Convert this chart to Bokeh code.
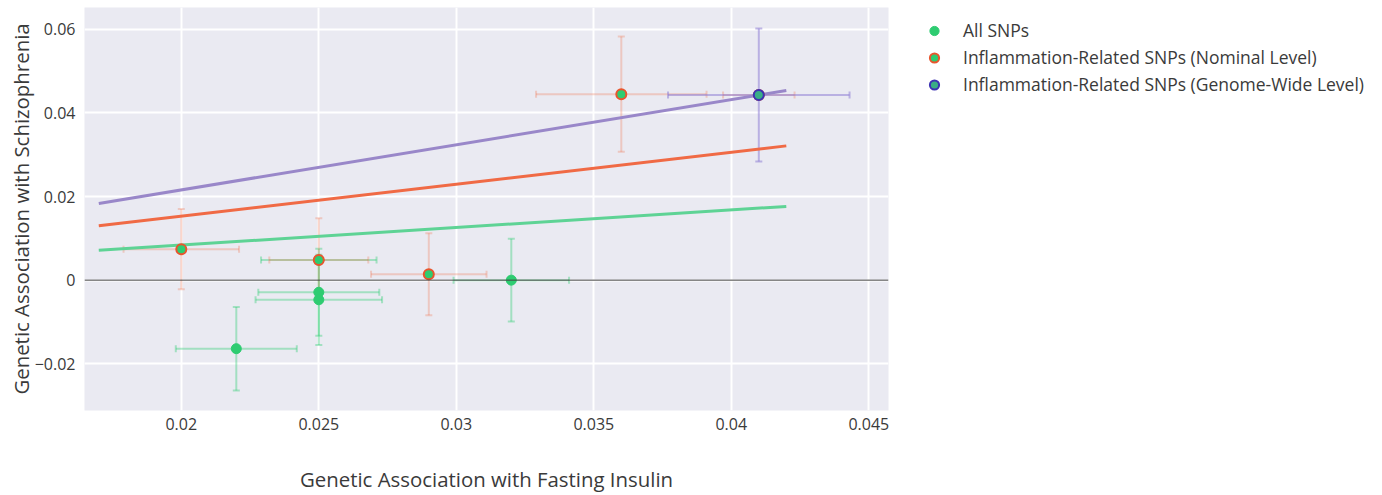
from bokeh.plotting import figure
from bokeh.layouts import row
from bokeh.models import (Whisker, TeeHead, Span, Legend, LegendItem, ColumnDataSource,
                          FixedTicker, Range1d)
from bokeh.embed import file_html
from bokeh.resources import INLINE

# ---- data ----
all_x = [0.022, 0.025, 0.025, 0.032, 0.025]
all_y = [-0.0164, -0.0029, -0.0047, 0.0, 0.0048]
all_xerr = [0.0022, 0.0022, 0.0023, 0.0021, 0.0021]
all_yerr = [0.0100, 0.0104, 0.0108, 0.0099, 0.0]

nom_x = [0.020, 0.025, 0.029, 0.036, 0.041]
nom_y = [0.0074, 0.0048, 0.0014, 0.0445, 0.0443]
nom_xerr = [0.0021, 0.0018, 0.0021, 0.0031, 0.0013]
nom_yerr = [0.0096, 0.0100, 0.0098, 0.0138, 0.0]

gw_x = [0.041]
gw_y = [0.0443]
gw_xerr = [0.0033]
gw_yerr = [0.0159]

line_x = [0.017, 0.042]
slope_all = 0.420
slope_nom = 0.765
slope_gw = 1.080

x_ticks = [0.02, 0.025, 0.03, 0.035, 0.04, 0.045]
x_labels = ["0.02", "0.025", "0.03", "0.035", "0.04", "0.045"]
y_ticks = [-0.02, 0.0, 0.02, 0.04, 0.06]
y_labels = ["\u22120.02", "0", "0.02", "0.04", "0.06"]

labels = ["All SNPs",
          "Inflammation-Related SNPs (Nominal Level)",
          "Inflammation-Related SNPs (Genome-Wide Level)"]

FONT = "Open Sans"
TXT = "#3a3a3a"
GREEN = "#2ecc71"
ORANGE = "#f06a45"
NOM_EDGE = "#e8552d"
GW_EDGE = "#3d33b3"
GW_FILL = "#3aae86"

p = figure(width=895, height=495, output_backend="svg", toolbar_location=None,
           x_range=Range1d(0.01648, 0.045716), y_range=Range1d(-0.03119, 0.06524),
           min_border_left=84, min_border_right=7, min_border_top=7,
           min_border_bottom=83)
p.background_fill_color = "#eaeaf2"
p.border_fill_color = "white"
p.outline_line_color = None

for ax, ticks, labs in ((p.xaxis[0], x_ticks, x_labels), (p.yaxis[0], y_ticks, y_labels)):
    ax.ticker = FixedTicker(ticks=ticks)
    ax.major_label_overrides = {t: l for t, l in zip(ticks, labs)}
    ax.axis_line_color = None
    ax.major_tick_line_color = None
    ax.minor_tick_line_color = None
    ax.major_tick_out = 0
    ax.major_tick_in = 0
    ax.minor_tick_out = 0
    ax.minor_tick_in = 0
    ax.major_label_text_font = FONT
    ax.major_label_text_font_size = "16px"
    ax.major_label_text_color = TXT
    ax.axis_label_text_font = FONT
    ax.axis_label_text_font_size = "20.4px"
    ax.axis_label_text_font_style = "normal"
    ax.axis_label_text_color = TXT

p.xaxis.axis_label = "Genetic Association with Fasting Insulin"
p.yaxis.axis_label = "Genetic Association with Schizophrenia"
p.xaxis.major_label_standoff = 7
p.xaxis.axis_label_standoff = 32
p.yaxis.major_label_standoff = 9
p.yaxis.axis_label_standoff = -3

p.xgrid.ticker = FixedTicker(ticks=x_ticks)
p.ygrid.ticker = FixedTicker(ticks=y_ticks)
p.grid.grid_line_color = "white"
p.grid.grid_line_width = 2

p.add_layout(Span(location=0, dimension="width", line_color="#444444", line_width=1))


def add_errors(xs, ys, xe, ye, color, alpha):
    for dim, errs in (("height", ye), ("width", xe)):
        rows = [(x, y, e) for x, y, e in zip(xs, ys, errs) if e > 0]
        if not rows:
            continue
        if dim == "height":
            data = dict(b=[r[0] for r in rows], lo=[r[1] - r[2] for r in rows],
                        up=[r[1] + r[2] for r in rows])
        else:
            data = dict(b=[r[1] for r in rows], lo=[r[0] - r[2] for r in rows],
                        up=[r[0] + r[2] for r in rows])
        src = ColumnDataSource(data)
        w = Whisker(source=src, base="b", lower="lo", upper="up", dimension=dim,
                    line_color=color, line_alpha=alpha, line_width=2,
                    lower_head=TeeHead(size=7, line_color=color, line_alpha=alpha, line_width=2),
                    upper_head=TeeHead(size=7, line_color=color, line_alpha=alpha, line_width=2))
        p.add_layout(w)


add_errors(all_x, all_y, all_xerr, all_yerr, GREEN, 0.38)
add_errors(nom_x, nom_y, nom_xerr, nom_yerr, ORANGE, 0.28)
add_errors(gw_x, gw_y, gw_xerr, gw_yerr, "#8f7fd6", 0.55)

# trend lines
p.line(line_x, [slope_all * v for v in line_x], line_color="#5ed395", line_width=3)
p.line(line_x, [slope_nom * v for v in line_x], line_color=ORANGE, line_width=3)
p.line(line_x, [slope_gw * v for v in line_x], line_color="#9987c9", line_width=3)

p.scatter(all_x, all_y, size=10, fill_color=GREEN, line_color=GREEN, line_width=1)
p.scatter(nom_x, nom_y, size=10, fill_color=GREEN, line_color=NOM_EDGE, line_width=2)
p.scatter(gw_x, gw_y, size=10, fill_color=GW_FILL, line_color=GW_EDGE, line_width=2)

# ---- legend panel (separate figure to the right of the plot) ----
# its ranges lie away from the data, so the series only feed the legend swatches
lg = figure(width=487, height=495, output_backend="svg", toolbar_location=None,
            x_axis_type=None, y_axis_type=None, min_border=0,
            x_range=Range1d(1, 2), y_range=Range1d(1, 2))
lg.outline_line_color = None
lg.grid.visible = False
lg.background_fill_color = "white"
lg.border_fill_color = "white"

k_all = lg.scatter(all_x, all_y, size=10, fill_color=GREEN, line_color=GREEN, line_width=1)
k_nom = lg.scatter(nom_x, nom_y, size=10, fill_color=GREEN, line_color=NOM_EDGE, line_width=2)
k_gw = lg.scatter(gw_x, gw_y, size=10, fill_color=GW_FILL, line_color=GW_EDGE, line_width=2)

legend = Legend(items=[LegendItem(label=labels[0], renderers=[k_all]),
                       LegendItem(label=labels[1], renderers=[k_nom]),
                       LegendItem(label=labels[2], renderers=[k_gw])],
                location="top_left", margin=11, padding=0, spacing=3,
                glyph_width=56, glyph_height=23, label_height=23,
                label_standoff=1, border_line_alpha=0, background_fill_alpha=0,
                label_text_font=FONT, label_text_font_size="17.5px", label_text_color=TXT)
lg.add_layout(legend)

layout = row(p, lg)
open("out.html", "w").write(file_html(layout, INLINE))
